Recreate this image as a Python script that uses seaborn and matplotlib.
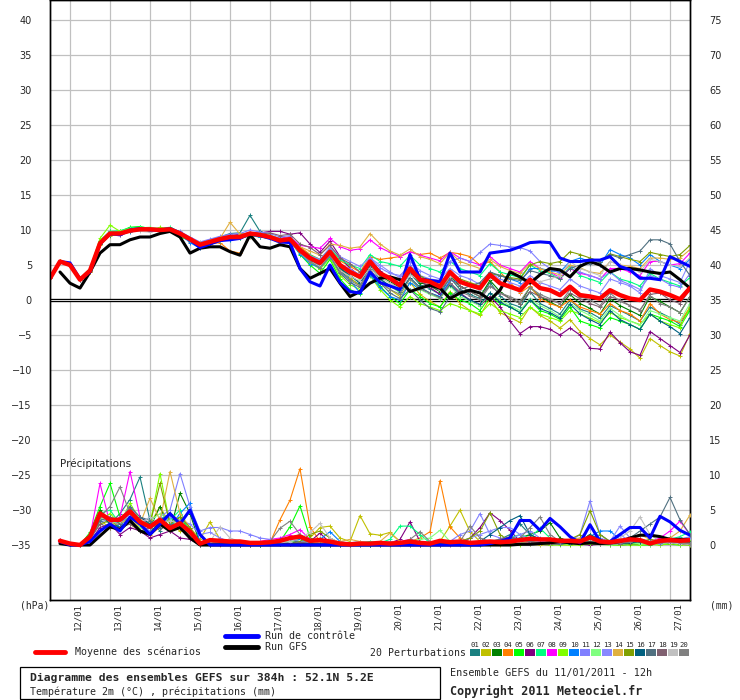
import numpy as np
import pandas as pd
import matplotlib
matplotlib.use("Agg")
import matplotlib.pyplot as plt
from matplotlib.transforms import ScaledTranslation
from matplotlib.lines import Line2D
from matplotlib.patches import Rectangle
import seaborn as sns

nan = float("nan")

# 6-hourly steps of the 11/01/2011 12h GEFS run, 0..384h
times = pd.date_range("2011-01-11 12:00", "2011-01-27 12:00", freq="6h")
days = pd.date_range("2011-01-12", "2011-01-27", freq="D")
day_labels = ["12/01", "13/01", "14/01", "15/01", "16/01", "17/01", "18/01", "19/01",
              "20/01", "21/01", "22/01", "23/01", "24/01", "25/01", "26/01", "27/01"]

members = ["01", "02", "03", "04", "05", "06", "07", "08", "09", "10",
           "11", "12", "13", "14", "15", "16", "17", "18", "19", "20"]
pert_colors = ["#1a8080", "#c0c000", "#008000", "#ff8000", "#00ff00", "#800080", "#00ff80",
               "#ff00ff", "#80ff00", "#0080ff", "#8080ff", "#80ff80", "#8888ff", "#e0b040",
               "#80a000", "#006080", "#507080", "#806070", "#c0c0c0", "#808080"]

# ---- 2m temperature (°C) ----
t01 = [3.1,
       5.6, 5.2, 3.0, 4.4, 8.5, 9.8, 9.6, 10.2,
       10.3, 10.0, 10.3, 10.0, 9.2, 8.5, 7.6, 8.6,
       9.0, 9.5, 9.6, 12.1, 9.8, 9.2, 8.8, 9.0,
       7.5, 6.3, 5.0, 6.5, 4.2, 3.0, 2.2, 4.8,
       3.0, 2.0, 1.5, 3.8, 2.2, 1.6, 0.8, 3.2,
       1.5, 0.8, 0.2, 2.5, 0.6, -0.5, -1.0, 1.2,
       -0.5, -1.2, -2.0, 0.0, -1.3, -1.8, -2.6, -0.8,
       -1.5, -2.2, -3.0, -1.0, -1.8, -2.5, -3.5, -1.2]
t02 = [3.1,
       5.4, 5.0, 2.8, 4.0, 7.8, 9.2, 9.4, 9.8,
       10.0, 10.2, 9.8, 10.0, 9.6, 8.8, 8.0, 8.2,
       8.5, 8.8, 8.8, 9.2, 9.0, 8.8, 8.2, 8.4,
       6.8, 5.8, 5.0, 6.2, 4.5, 3.2, 2.0, 4.2,
       2.6, 1.5, 0.5, 2.5, 0.8, -0.2, -1.0, 1.2,
       -0.5, -1.5, -2.2, 0.2, -1.8, -2.5, -3.2, -1.0,
       -2.2, -3.0, -4.0, -2.8, -4.5, -5.5, -6.4, -5.0,
       -6.0, -7.0, -8.3, -5.5, -6.5, -7.4, -8.0, -4.8]
t03 = [3.1,
       5.5, 5.1, 2.9, 4.3, 8.2, 9.6, 9.7, 10.0,
       10.2, 10.3, 10.1, 10.2, 9.4, 8.6, 7.8, 8.0,
       8.6, 8.9, 9.2, 9.4, 9.2, 9.1, 8.6, 8.8,
       7.0, 5.6, 4.5, 6.4, 4.6, 3.5, 2.5, 5.0,
       3.5, 2.6, 1.8, 4.0, 2.5, 2.0, 1.2, 3.5,
       2.0, 1.2, 0.5, 2.8, 1.2, 0.2, -0.5, 1.8,
       0.5, -0.3, -1.0, 0.8, -0.5, -1.2, -2.0, 0.2,
       -0.8, -1.5, -2.2, 0.5, -0.2, -1.0, -1.8, 0.5]
t04 = [3.1,
       5.5, 4.9, 2.8, 4.0, 8.0, 9.4, 9.5, 9.8,
       10.0, 10.0, 9.9, 10.0, 9.6, 8.3, 7.5, 8.0,
       8.2, 7.0, 6.7, 9.0, 9.5, 9.0, 8.3, 8.5,
       7.6, 6.5, 5.8, 7.2, 5.6, 4.8, 4.0, 6.2,
       5.8, 6.0, 6.2, 6.9, 6.5, 6.7, 6.0, 6.8,
       6.6, 6.2, 5.0, 5.5, 4.0, 2.5, 1.0, 2.0,
       0.2, -0.5, -1.0, 0.0, -1.0, -1.5, -2.0, -0.5,
       -1.5, -2.0, -3.0, -0.5, -2.0, -2.8, -3.2, -1.0]
t05 = [3.1,
       5.6, 5.1, 3.0, 4.2, 8.3, 9.7, 9.8, 10.4,
       10.5, 10.2, 10.0, 10.3, 9.0, 8.5, 7.7, 8.2,
       8.4, 8.7, 9.0, 9.3, 9.0, 8.8, 8.3, 8.5,
       6.5, 5.0, 3.8, 5.8, 3.0, 1.5, 0.8, 3.8,
       2.0, 0.5, -0.5, 1.5, 0.5, -0.5, -1.0, 1.0,
       0.0, -0.5, -1.5, 0.5, -0.5, -1.0, -1.8, 0.0,
       -1.5, -2.0, -2.8, -1.0, -3.0, -3.5, -4.0, -2.5,
       -3.0, -3.5, -4.2, -2.0, -2.5, -3.0, -3.8, -1.5]
t06 = [3.1,
       5.5, 5.0, 2.9, 4.1, 8.0, 9.4, 9.3, 9.8,
       10.0, 10.0, 10.1, 10.0, 9.4, 8.8, 8.2, 8.6,
       8.9, 9.2, 9.4, 9.6, 9.6, 9.8, 9.8, 9.4,
       9.6, 8.0, 6.8, 8.4, 6.2, 4.5, 3.5, 5.8,
       4.2, 3.0, 2.0, 4.0, 2.8, 1.8, 0.8, 2.5,
       1.0, 0.0, -0.8, 0.5, -1.0, -3.0, -4.8, -3.8,
       -3.8, -4.2, -5.0, -4.0, -5.0, -6.9, -7.0, -4.6,
       -6.1, -7.4, -7.9, -4.5, -5.5, -6.5, -7.5, -5.0]
t07 = [3.1,
       5.5, 5.0, 3.0, 4.3, 8.4, 9.8, 9.9, 10.3,
       10.4, 10.3, 10.2, 10.4, 9.7, 8.9, 8.0, 8.4,
       8.8, 9.1, 9.1, 9.6, 9.4, 9.2, 8.7, 8.9,
       7.2, 6.4, 5.8, 7.4, 5.8, 5.0, 4.5, 6.5,
       5.5, 5.2, 4.8, 6.4, 5.0, 4.5, 4.0, 5.5,
       4.5, 4.0, 3.5, 5.2, 4.0, 3.6, 3.2, 5.0,
       4.2, 3.8, 3.0, 4.8, 3.5, 3.0, 2.5, 4.0,
       3.0, 2.6, 2.0, 3.8, 3.0, 2.5, 2.0, 3.2]
t08 = [3.1,
       5.5, 5.0, 2.9, 4.2, 8.1, 9.5, 9.6, 10.0,
       10.1, 10.1, 10.0, 10.2, 9.6, 8.8, 8.0, 8.5,
       8.9, 9.1, 9.2, 9.7, 9.4, 9.1, 8.8, 9.0,
       7.8, 7.6, 7.4, 8.8, 7.6, 7.1, 7.3, 8.6,
       7.5, 6.8, 6.2, 6.9, 6.4, 6.0, 5.6, 6.9,
       6.0, 5.5, 5.0, 6.2, 5.0, 4.5, 4.0, 5.5,
       4.5, 4.0, 3.2, 4.5, 3.8, 3.5, 3.0, 4.5,
       4.5, 4.0, 3.5, 5.5, 5.5, 5.0, 5.2, 6.7]
t09 = [3.1,
       5.6, 5.2, 3.1, 4.5, 8.8, 10.7, 9.8, 10.2,
       10.0, 9.8, 10.4, 10.1, 9.3, 8.4, 7.8, 8.1,
       8.5, 8.6, 8.9, 9.1, 9.1, 8.9, 8.4, 8.6,
       6.8, 5.4, 4.4, 6.0, 3.5, 2.2, 1.5, 3.5,
       1.5, 0.0, -1.0, 0.5, -0.5, -1.0, -1.5, -0.5,
       -1.0, -1.5, -2.0, -0.5, -1.5, -2.0, -2.5, -1.0,
       -2.0, -2.5, -3.0, -1.5, -2.0, -2.6, -3.2, -1.8,
       -2.5, -3.0, -3.5, -2.0, -3.0, -3.5, -4.0, -1.0]
t10 = [3.1,
       5.5, 5.1, 2.9, 4.2, 8.0, 9.3, 9.4, 9.7,
       10.0, 10.0, 9.9, 10.0, 9.4, 8.2, 7.4, 8.0,
       8.4, 8.6, 8.8, 9.2, 9.0, 8.9, 8.2, 8.4,
       6.6, 5.2, 4.6, 6.2, 4.0, 2.8, 1.0, 3.6,
       1.8, 0.5, 0.0, 2.5, 1.5, 1.0, 0.5, 2.8,
       2.5, 2.0, 1.5, 3.8, 3.5, 3.0, 2.5, 4.5,
       4.5, 4.2, 4.0, 5.5, 6.0, 5.5, 5.0, 7.2,
       6.5, 6.0, 5.0, 6.5, 5.5, 5.0, 4.5, 5.8]
t11 = [3.1,
       5.5, 5.1, 3.0, 4.2, 8.2, 9.5, 9.6, 10.1,
       10.2, 10.0, 9.9, 10.1, 9.8, 9.0, 8.3, 8.7,
       9.1, 9.4, 9.5, 10.0, 9.7, 9.5, 9.0, 9.2,
       7.3, 6.2, 5.6, 7.2, 5.2, 4.4, 3.6, 6.0,
       4.6, 3.8, 3.5, 5.0, 3.5, 3.0, 2.8, 5.5,
       6.0, 5.5, 6.8, 8.0, 7.8, 7.6, 7.5, 7.0,
       5.5, 4.5, 3.8, 5.0, 4.0, 3.5, 3.0, 4.0,
       2.8, 2.2, 1.5, 3.5, 3.0, 2.2, 1.8, 3.8]
t12 = [3.1,
       5.5, 5.0, 3.0, 4.3, 8.3, 9.6, 9.7, 10.1,
       10.3, 10.4, 10.2, 10.3, 9.5, 8.8, 8.1, 8.5,
       8.9, 9.0, 9.3, 9.6, 9.5, 9.3, 8.7, 8.9,
       7.2, 6.0, 5.0, 6.6, 4.8, 3.8, 3.0, 5.2,
       3.0, 2.0, 1.0, 3.0, 1.5, 0.8, 0.2, 2.0,
       0.5, -0.2, -0.8, 1.0, 0.0, -0.8, -1.5, 0.2,
       -0.8, -1.5, -2.4, -0.5, -1.5, -2.2, -3.0, -1.2,
       -2.2, -3.0, -3.6, -1.5, -2.0, -2.5, -3.0, -0.5]
t13 = [3.1,
       5.5, 5.0, 2.9, 4.2, 8.1, 9.4, 9.4, 9.9,
       10.1, 10.1, 10.0, 10.2, 9.5, 8.7, 7.9, 8.3,
       8.7, 9.0, 9.1, 9.5, 9.3, 9.0, 8.5, 8.7,
       7.0, 6.3, 5.8, 7.5, 6.2, 5.5, 4.8, 6.0,
       5.0, 4.0, 3.2, 5.5, 4.2, 3.5, 3.0, 4.5,
       3.5, 3.0, 2.2, 4.0, 3.0, 2.5, 2.0, 3.5,
       2.5, 2.0, 1.5, 3.0, 2.0, 1.5, 1.0, 3.0,
       2.5, 2.0, 1.0, 4.5, 3.5, 3.0, 2.5, 5.5]
t14 = [3.1,
       5.6, 5.1, 3.0, 4.3, 8.2, 9.6, 9.7, 10.0,
       10.0, 9.9, 10.0, 10.1, 9.5, 8.8, 8.1, 8.5,
       8.8, 11.1, 9.4, 9.5, 9.2, 8.9, 8.4, 8.6,
       7.6, 7.0, 6.4, 8.0, 7.8, 7.4, 7.6, 9.5,
       8.0, 7.0, 6.4, 7.3, 6.2, 5.8, 5.2, 6.8,
       5.5, 5.0, 4.5, 5.8, 4.8, 4.2, 3.8, 5.2,
       4.5, 4.0, 3.6, 5.0, 4.6, 4.0, 3.8, 5.5,
       5.0, 4.8, 4.5, 6.0, 6.0, 5.8, 6.0, 7.2]
t15 = [3.1,
       5.5, 5.1, 2.9, 4.2, 8.0, 9.4, 9.5, 9.9,
       10.2, 10.2, 10.1, 10.0, 9.3, 8.6, 7.8, 8.1,
       8.6, 8.9, 9.0, 9.4, 9.2, 8.9, 8.4, 8.6,
       6.9, 5.9, 5.2, 6.8, 4.9, 4.0, 3.4, 5.4,
       3.8, 3.0, 2.4, 4.6, 3.4, 2.8, 2.2, 4.0,
       3.0, 2.5, 2.0, 3.8, 3.5, 3.2, 3.0, 5.0,
       5.5, 5.2, 5.5, 6.9, 6.5, 6.0, 5.5, 6.6,
       6.2, 5.8, 5.5, 6.8, 6.5, 6.2, 6.5, 7.8]
t16 = [3.1,
       5.5, 5.0, 2.8, 4.1, 8.0, 9.3, 9.4, 9.8,
       10.0, 10.1, 10.0, 10.1, 9.6, 8.7, 7.9, 8.2,
       8.7, 9.1, 9.0, 9.4, 9.2, 9.0, 8.6, 8.7,
       7.0, 5.8, 5.0, 6.6, 4.5, 3.5, 2.4, 4.8,
       3.0, 2.0, 1.2, 3.2, 1.8, 1.0, 0.4, 2.2,
       0.8, 0.0, -0.6, 1.0, -0.3, -1.0, -1.8, 0.0,
       -1.2, -1.8, -2.6, -0.6, -2.0, -2.8, -3.5, -1.5,
       -2.8, -3.5, -4.2, -2.0, -3.0, -3.8, -4.8, -2.5]
t17 = [3.1,
       5.5, 5.0, 2.9, 4.2, 8.1, 9.5, 9.5, 10.0,
       10.1, 10.0, 10.0, 10.1, 9.5, 8.7, 7.8, 8.3,
       8.6, 8.9, 9.0, 9.4, 9.2, 9.0, 8.6, 8.7,
       7.0, 5.8, 4.8, 6.4, 3.8, 2.5, 1.8, 4.0,
       2.5, 1.0, 0.2, 1.5, 0.0, -1.2, -1.7, 0.5,
       1.5, 2.0, 2.5, 4.0, 3.5, 3.0, 2.8, 4.2,
       3.8, 3.5, 3.0, 4.5, 5.0, 5.2, 5.5, 6.5,
       6.0, 6.5, 7.0, 8.6, 8.6, 8.0, 5.5, 3.5]
t18 = [3.1,
       5.5, 5.0, 2.9, 4.2, 8.0, 9.4, 9.4, 9.9,
       10.1, 10.0, 10.0, 10.1, 9.4, 8.7, 8.0, 8.2,
       8.7, 9.0, 9.1, 9.4, 9.4, 9.6, 9.2, 9.4,
       8.0, 7.5, 6.5, 7.8, 6.0, 5.2, 4.0, 5.6,
       4.0, 3.0, 2.2, 4.2, 2.8, 2.0, 1.4, 3.0,
       2.0, 1.2, 0.5, 2.0, 1.0, 0.2, -0.5, 1.2,
       0.5, 0.0, -0.5, 1.0, 0.2, -0.5, -1.0, 0.5,
       0.0, -0.8, -1.5, 0.8, 1.0, 0.0, -0.5, 1.5]
t19 = [3.1,
       5.5, 5.0, 2.9, 4.2, 8.2, 9.4, 9.6, 10.0,
       9.8, 9.7, 9.9, 10.0, 9.3, 8.6, 7.8, 8.2,
       8.6, 8.9, 9.0, 9.4, 9.2, 8.8, 8.0, 8.3,
       6.8, 5.5, 4.8, 6.5, 4.2, 3.4, 2.7, 4.6,
       3.2, 2.4, 1.6, 3.6, 2.8, 2.2, 1.5, 3.4,
       2.6, 2.0, 1.4, 3.2, 2.4, 1.8, 1.2, 3.0,
       2.6, 3.0, 3.5, 5.5, 4.5, 4.0, 3.5, 5.5,
       5.0, 4.5, 4.0, 5.8, 5.5, 5.0, 4.8, 6.0]
t20 = [3.1,
       5.5, 5.0, 2.9, 4.2, 8.1, 9.5, 9.5, 10.0,
       10.1, 10.1, 10.0, 10.1, 9.4, 8.6, 7.7, 8.2,
       8.7, 9.0, 9.0, 9.4, 9.2, 9.0, 8.5, 8.7,
       6.8, 5.5, 4.6, 6.3, 4.0, 2.8, 2.0, 4.4,
       2.5, 1.5, 0.8, 3.0, 1.6, 1.0, 0.3, 2.4,
       1.2, 0.6, 0.0, 2.0, 1.0, 0.5, -0.2, 1.8,
       0.8, 0.2, -0.5, 1.5, 0.5, 0.0, -0.8, 1.0,
       -0.2, -0.8, -1.4, 0.6, -0.5, -1.0, -1.8, 0.5]
mean_t = [3.1,
          5.5, 5.0, 2.9, 4.2, 8.1, 9.5, 9.5, 9.9,
          10.1, 10.1, 10.0, 10.1, 9.5, 8.7, 7.9, 8.3,
          8.7, 9.0, 9.0, 9.5, 9.3, 9.0, 8.5, 8.7,
          7.1, 6.0, 5.3, 6.9, 5.0, 4.0, 3.3, 5.5,
          3.8, 3.1, 2.1, 4.5, 2.9, 2.6, 1.9, 4.0,
          2.6, 2.1, 1.7, 3.6, 2.4, 1.9, 1.4, 2.9,
          1.7, 1.4, 0.7, 1.9, 0.7, 0.5, 0.2, 1.4,
          0.7, 0.2, 0.0, 1.5, 1.2, 0.7, 0.1, 1.7]
ctrl_t = [3.1,
          5.5, 5.3, 3.0, 4.0, 8.0, 9.5, 9.3, 10.0,
          10.2, 10.0, 10.0, 10.2, 9.6, 8.6, 7.5, 8.0,
          8.5, 8.6, 8.8, 9.5, 9.2, 8.8, 8.3, 8.2,
          4.5, 2.6, 2.0, 5.0, 2.5, 1.2, 1.0, 4.0,
          2.5, 2.0, 1.5, 6.5, 3.0, 2.8, 2.6, 6.7,
          4.0, 4.0, 4.0, 6.7, 6.9, 7.1, 7.6, 8.2,
          8.3, 8.2, 6.0, 5.5, 5.5, 5.7, 5.7, 6.2,
          4.8, 4.3, 3.1, 3.1, 2.9, 6.2, 5.5, 4.8]
gfs_t = [nan,
         4.0, 2.4, 1.7, 4.0, 6.7, 7.9, 7.9, 8.6,
         9.0, 9.0, 9.5, 9.8, 9.0, 6.7, 7.4, 7.6,
         7.6, 6.9, 6.4, 9.3, 7.6, 7.4, 7.9, 7.6,
         4.5, 3.1, 3.8, 4.5, 2.4, 0.5, 1.2, 2.4,
         3.1, 3.3, 2.9, 1.2, 1.7, 2.1, 1.7, 0.2,
         1.0, 1.4, 1.0, 0.0, 1.4, 4.0, 3.3, 2.4,
         3.6, 4.5, 4.3, 3.3, 4.8, 5.5, 5.0, 4.0,
         4.5, 4.5, 4.3, 4.0, 3.8, 4.0, 2.9, 1.7]

# ---- precipitation (mm / 6h) ----
r01 = [nan, 0.6, 0.2, 0.0, 1.5, 4.0, 3.0, 4.5, 6.5, 9.7, 3.5, 2.0, 4.0, 3.0, 2.5, 0.5, 0.3,
       0.5, 0.3, 0.2, 0.1, 0.1, 0.3, 0.5, 1.0, 1.5, 0.5, 0.3, 0.2, 0.1, 0.0, 0.0, 0.1,
       0.2, 0.1, 0.3, 0.2, 0.1, 0.0, 0.2, 0.3, 0.5, 0.3, 0.2, 0.5, 0.8, 1.5, 3.0, 1.5,
       0.8, 0.5, 0.3, 0.2, 0.3, 1.0, 0.5, 0.3, 0.2, 0.2, 0.3, 0.5, 0.8, 1.0, 0.8, 0.5]
r02 = [nan, 0.6, 0.2, 0.0, 1.0, 3.5, 2.5, 3.0, 4.0, 2.5, 3.0, 5.5, 3.0, 2.0, 2.5, 0.8, 3.3,
       0.8, 0.3, 0.1, 0.0, 0.0, 0.1, 0.2, 0.3, 0.5, 1.0, 2.5, 2.7, 1.0, 0.5, 4.2, 1.6,
       1.4, 1.8, 0.5, 0.2, 0.1, 0.0, 0.5, 2.7, 5.0, 1.9, 0.5, 0.3, 0.1, 0.0, 0.2, 0.1,
       0.0, 0.1, 0.3, 0.2, 0.0, 0.5, 0.2, 0.0, 0.1, 0.3, 0.5, 0.2, 0.0, 0.2, 0.5, 0.3]
r03 = [nan, 0.6, 0.1, 0.0, 0.8, 5.0, 3.5, 2.5, 5.5, 3.0, 2.5, 5.5, 2.0, 7.4, 4.5, 0.2, 0.5,
       0.3, 0.2, 0.0, 0.0, 0.1, 0.2, 0.1, 0.3, 0.5, 0.3, 0.2, 0.0, 0.0, 0.0, 0.1, 0.0,
       0.0, 0.1, 0.2, 0.5, 0.3, 0.1, 0.0, 0.2, 0.3, 0.5, 0.2, 0.1, 0.3, 0.5, 1.0, 1.5,
       2.0, 3.2, 1.0, 0.5, 0.5, 1.5, 0.5, 0.2, 0.1, 0.3, 0.5, 0.2, 0.5, 1.0, 0.5, 0.2]
r04 = [nan, 0.6, 0.2, 0.0, 1.0, 4.0, 3.0, 3.5, 3.0, 2.0, 1.5, 2.5, 4.5, 3.5, 1.0, 0.0, 0.0,
       0.0, 0.0, 0.1, 0.2, 0.3, 0.3, 3.6, 6.4, 10.9, 2.6, 0.5, 0.2, 0.1, 0.0, 0.0, 0.1,
       0.2, 0.1, 0.3, 0.5, 1.0, 1.9, 9.2, 2.6, 1.0, 0.5, 0.2, 0.1, 0.2, 0.1, 0.3, 0.5,
       0.3, 0.2, 0.1, 0.0, 0.2, 0.5, 0.3, 0.1, 0.2, 0.3, 0.8, 0.5, 0.3, 0.5, 0.8, 1.0]
r05 = [nan, 0.6, 0.1, 0.0, 1.8, 5.5, 8.8, 4.0, 3.5, 2.0, 2.0, 3.0, 2.5, 4.0, 2.0, 0.2, 0.2,
       0.2, 0.1, 0.0, 0.0, 0.0, 0.1, 0.5, 2.6, 5.6, 1.0, 0.3, 0.1, 0.0, 0.0, 0.0, 0.0,
       0.1, 0.2, 0.1, 0.0, 0.0, 0.1, 0.3, 0.2, 0.1, 0.0, 0.0, 0.2, 0.1, 0.0, 0.3, 0.5,
       0.8, 0.5, 0.2, 0.1, 0.5, 1.5, 0.3, 0.0, 0.0, 0.1, 0.0, 0.0, 0.2, 0.1, 0.0, 0.3]
r06 = [nan, 0.7, 0.2, 0.0, 0.5, 2.5, 3.0, 1.5, 2.5, 2.0, 1.0, 1.5, 2.0, 1.0, 0.8, 0.0, 0.0,
       0.1, 0.0, 0.0, 0.0, 0.1, 0.2, 0.3, 0.5, 0.3, 0.5, 1.7, 0.3, 0.1, 0.0, 0.0, 0.0,
       0.1, 0.3, 0.8, 3.3, 0.5, 0.2, 0.1, 0.0, 0.1, 1.0, 2.5, 4.6, 3.5, 2.1, 0.5, 0.2,
       0.1, 0.0, 0.2, 0.3, 0.1, 0.0, 0.1, 0.2, 0.0, 0.1, 0.2, 0.1, 0.3, 0.2, 0.1, 0.0]
r07 = [nan, 0.6, 0.2, 0.0, 1.5, 4.5, 5.0, 3.0, 4.0, 3.0, 2.5, 4.0, 3.5, 5.0, 1.5, 0.1, 0.3,
       0.3, 0.2, 0.1, 0.0, 0.0, 0.1, 0.2, 0.5, 0.8, 0.3, 0.1, 0.0, 0.1, 0.2, 0.3, 0.5,
       0.3, 0.8, 2.7, 2.7, 1.5, 0.3, 0.1, 0.2, 0.3, 0.2, 0.1, 0.0, 0.5, 1.0, 1.5, 1.0,
       2.4, 1.0, 0.5, 0.3, 0.2, 0.8, 1.5, 0.5, 0.2, 0.1, 0.3, 0.5, 0.5, 0.8, 1.2, 1.9]
r08 = [nan, 0.6, 0.2, 0.0, 1.2, 8.8, 3.0, 4.0, 10.5, 4.0, 3.0, 3.0, 2.0, 2.5, 2.0, 0.3, 0.3,
       0.2, 0.1, 0.0, 0.3, 0.5, 0.8, 1.0, 1.5, 2.2, 0.8, 0.3, 0.1, 0.0, 0.1, 0.2, 0.1,
       0.0, 0.3, 0.5, 0.8, 0.2, 0.1, 0.0, 0.1, 0.2, 0.1, 0.3, 0.2, 0.1, 0.2, 0.5, 0.3,
       0.2, 0.5, 0.3, 0.2, 0.3, 0.5, 0.2, 0.1, 0.2, 0.5, 0.3, 0.5, 1.0, 2.0, 3.4, 1.5]
r09 = [nan, 0.6, 0.2, 0.0, 1.0, 3.5, 4.5, 3.0, 6.0, 3.5, 3.0, 10.2, 3.0, 3.5, 2.0, 0.1, 0.2,
       0.2, 0.0, 0.0, 0.0, 0.0, 0.1, 0.3, 0.5, 0.8, 0.2, 0.0, 0.0, 0.0, 0.0, 0.1, 0.0,
       0.0, 0.0, 0.2, 0.1, 0.0, 0.0, 0.1, 0.3, 0.2, 0.0, 0.0, 0.1, 0.0, 0.0, 0.0, 0.2,
       0.1, 0.0, 0.0, 0.0, 0.0, 0.2, 0.1, 0.0, 0.0, 0.0, 0.0, 0.1, 0.0, 0.2, 0.0, 0.0]
r10 = [nan, 0.6, 0.2, 0.0, 1.5, 3.5, 4.0, 2.5, 5.0, 3.0, 4.0, 3.0, 2.5, 4.5, 6.0, 0.2, 0.5,
       0.3, 0.2, 0.1, 0.0, 0.2, 0.5, 0.8, 1.0, 0.8, 0.5, 0.8, 1.9, 0.5, 0.2, 0.1, 0.0,
       0.1, 0.2, 0.3, 0.5, 0.3, 0.1, 0.2, 0.5, 0.3, 0.2, 0.1, 0.3, 0.5, 0.8, 1.0, 0.8,
       0.5, 0.3, 0.2, 0.5, 0.8, 1.2, 2.0, 2.0, 0.8, 0.5, 0.3, 0.2, 0.3, 0.5, 0.3, 0.2]
r11 = [nan, 0.5, 0.2, 0.0, 1.0, 4.0, 3.5, 3.0, 4.5, 3.0, 2.0, 4.0, 5.0, 10.2, 5.5, 2.0, 2.5,
       2.5, 2.0, 2.0, 1.5, 1.0, 0.8, 0.5, 0.3, 0.2, 0.1, 0.0, 0.1, 0.2, 0.3, 0.5, 0.3,
       0.2, 0.5, 0.3, 0.8, 0.5, 0.3, 0.2, 0.5, 1.5, 2.0, 4.5, 1.5, 1.0, 0.8, 1.5, 2.0,
       1.0, 0.5, 0.3, 0.5, 1.5, 6.3, 1.5, 0.5, 1.5, 0.5, 0.3, 0.2, 0.5, 0.8, 1.0, 0.5]
r12 = [nan, 0.6, 0.1, 0.0, 1.2, 4.0, 3.0, 3.5, 3.0, 2.5, 3.5, 4.5, 3.5, 3.0, 2.0, 0.2, 0.0,
       0.1, 0.0, 0.0, 0.0, 0.1, 0.2, 0.3, 0.5, 0.3, 0.2, 0.1, 0.0, 0.0, 0.1, 0.2, 0.1,
       0.0, 0.1, 0.3, 0.5, 0.8, 1.0, 2.1, 0.5, 0.2, 0.1, 0.0, 0.1, 0.3, 0.5, 0.3, 0.1,
       0.2, 0.5, 0.3, 0.1, 0.2, 0.3, 0.1, 0.0, 0.1, 0.3, 0.2, 0.1, 0.2, 0.3, 0.5, 0.8]
r13 = [nan, 0.6, 0.2, 0.0, 1.0, 3.0, 4.0, 3.5, 5.5, 3.5, 2.5, 3.0, 4.0, 3.5, 3.0, 1.5, 1.8,
       1.0, 0.5, 0.3, 0.2, 0.2, 0.3, 0.5, 0.8, 0.5, 0.3, 0.2, 0.1, 0.1, 0.0, 0.1, 0.2,
       0.3, 0.2, 0.1, 0.2, 0.3, 0.2, 0.1, 0.3, 0.5, 1.0, 1.5, 2.0, 2.5, 2.5, 1.5, 0.8,
       0.5, 0.3, 0.2, 0.5, 1.0, 2.5, 1.0, 0.5, 2.7, 1.0, 0.5, 0.3, 0.2, 0.5, 0.8, 1.2]
r14 = [nan, 0.6, 0.2, 0.0, 1.3, 4.5, 3.0, 3.0, 4.0, 3.0, 6.7, 3.5, 10.5, 4.5, 2.5, 0.3, 0.2,
       0.5, 0.2, 0.1, 0.0, 0.1, 0.3, 0.5, 0.2, 0.1, 0.2, 0.5, 0.3, 0.5, 0.8, 0.5, 0.3,
       0.5, 1.7, 0.5, 0.2, 0.1, 0.2, 0.3, 0.1, 0.0, 0.1, 0.3, 0.2, 0.1, 0.2, 0.3, 0.5,
       0.3, 0.2, 0.5, 0.8, 1.0, 0.5, 0.3, 0.2, 0.5, 1.0, 1.5, 0.8, 0.5, 1.0, 2.0, 4.3]
r15 = [nan, 0.6, 0.2, 0.0, 1.0, 3.0, 3.5, 3.5, 5.0, 3.5, 3.0, 8.8, 3.0, 4.0, 2.5, 0.2, 0.2,
       0.2, 0.1, 0.0, 0.0, 0.1, 0.2, 0.3, 0.2, 0.5, 1.5, 2.0, 1.0, 0.3, 0.1, 0.0, 0.1,
       0.2, 0.3, 0.2, 0.1, 0.2, 0.3, 0.5, 0.3, 0.5, 1.0, 2.0, 4.6, 1.5, 0.5, 0.3, 0.2,
       0.1, 0.3, 0.5, 0.8, 1.5, 4.9, 1.5, 0.5, 0.3, 0.2, 0.5, 0.8, 0.5, 0.3, 0.2, 0.5]
r16 = [nan, 0.6, 0.2, 0.0, 1.0, 4.5, 3.0, 2.5, 3.5, 4.0, 3.0, 3.5, 4.5, 3.0, 2.0, 0.1, 0.0,
       0.1, 0.0, 0.0, 0.0, 0.0, 0.1, 0.2, 0.3, 0.2, 0.1, 0.0, 0.0, 0.0, 0.1, 0.0, 0.0,
       0.1, 0.2, 0.3, 0.2, 0.1, 0.0, 0.2, 0.3, 0.5, 0.3, 0.5, 1.5, 2.5, 3.5, 4.2, 1.5,
       0.8, 0.5, 0.3, 0.2, 0.5, 1.5, 0.8, 0.3, 0.2, 0.3, 0.5, 0.3, 0.5, 0.3, 0.2, 0.3]
r17 = [nan, 0.6, 0.2, 0.0, 1.0, 3.5, 4.0, 3.0, 5.5, 4.0, 3.5, 2.5, 3.0, 2.5, 1.5, 0.0, 0.2,
       0.2, 0.1, 0.0, 0.1, 0.2, 0.3, 0.5, 0.8, 0.3, 0.2, 0.1, 0.0, 0.0, 0.0, 0.1, 0.0,
       0.0, 0.1, 0.2, 0.1, 0.0, 0.1, 0.0, 0.2, 0.3, 0.2, 0.1, 0.3, 0.5, 1.0, 0.8, 0.5,
       0.3, 0.2, 0.1, 0.3, 0.5, 0.8, 0.5, 0.3, 0.5, 1.0, 2.0, 3.0, 4.0, 6.8, 3.6, 1.5]
r18 = [nan, 0.6, 0.2, 0.0, 0.8, 3.0, 2.5, 2.5, 3.0, 2.0, 2.5, 3.0, 2.0, 2.5, 1.0, 0.1, 0.2,
       0.2, 0.1, 0.0, 0.0, 0.1, 0.2, 0.3, 0.2, 0.3, 0.5, 0.8, 0.3, 0.1, 0.0, 0.1, 0.2,
       0.3, 0.2, 0.1, 0.0, 0.0, 0.1, 0.3, 0.2, 0.1, 0.0, 0.2, 0.5, 0.8, 1.2, 0.8, 0.5,
       0.3, 0.2, 0.3, 0.5, 0.3, 0.5, 0.2, 0.1, 0.2, 0.5, 0.8, 0.5, 0.3, 0.5, 0.3, 0.2]
r19 = [nan, 0.6, 0.2, 0.0, 1.2, 4.0, 3.5, 3.5, 4.5, 3.0, 4.0, 3.0, 3.5, 3.0, 2.0, 0.2, 0.5,
       2.6, 1.0, 0.5, 0.2, 0.1, 0.2, 0.3, 0.5, 1.0, 1.8, 3.1, 1.0, 0.3, 0.1, 0.0, 0.1,
       0.2, 0.1, 0.0, 0.1, 0.3, 0.2, 0.1, 0.0, 0.1, 0.2, 0.3, 0.2, 0.3, 0.5, 0.3, 0.2,
       0.1, 0.3, 0.5, 0.3, 0.2, 0.5, 0.3, 0.5, 1.0, 2.0, 4.0, 1.5, 0.5, 0.3, 0.2, 0.1]
r20 = [nan, 0.6, 0.2, 0.0, 1.5, 4.0, 5.5, 8.3, 4.5, 3.0, 2.5, 3.0, 2.5, 3.0, 1.5, 0.1, 0.2,
       0.5, 0.3, 0.1, 0.0, 0.1, 0.5, 2.4, 3.4, 1.5, 0.5, 1.0, 0.3, 0.1, 0.0, 0.1, 0.2,
       0.1, 0.0, 0.3, 0.8, 1.9, 0.5, 0.2, 0.1, 0.5, 2.7, 1.0, 0.5, 0.3, 0.5, 1.0, 2.5,
       4.0, 1.5, 0.5, 0.3, 0.2, 0.5, 0.3, 0.2, 0.3, 0.5, 0.8, 0.5, 0.3, 0.5, 0.3, 0.2]
mean_r = [nan, 0.6, 0.2, 0.0, 1.2, 4.5, 3.6, 3.6, 4.8, 3.3, 2.6, 3.6, 2.4, 3.1, 1.9, 0.2, 0.7,
          0.6, 0.5, 0.5, 0.3, 0.3, 0.4, 0.6, 1.0, 1.2, 0.6, 0.7, 0.5, 0.2, 0.1, 0.2, 0.2,
          0.3, 0.2, 0.3, 0.5, 0.3, 0.2, 0.6, 0.4, 0.5, 0.3, 0.4, 0.5, 0.4, 0.5, 0.7, 0.9,
          0.8, 0.8, 0.6, 0.6, 0.5, 1.1, 0.5, 0.4, 0.6, 0.8, 0.7, 0.2, 0.6, 0.7, 0.6, 0.7]
ctrl_r = [nan, 0.5, 0.0, 0.0, 0.5, 2.0, 3.0, 2.0, 4.0, 3.0, 1.5, 3.0, 4.5, 3.0, 5.0, 1.5, 0.0,
          0.0, 0.0, 0.0, 0.0, 0.0, 0.0, 0.0, 0.0, 0.0, 0.0, 0.0, 0.0, 0.0, 0.0, 0.0, 0.0,
          0.0, 0.0, 0.0, 0.0, 0.0, 0.0, 0.0, 0.0, 0.0, 0.0, 0.0, 0.2, 0.5, 1.0, 3.5, 3.5,
          2.1, 3.8, 2.6, 1.2, 0.3, 2.9, 0.5, 0.5, 1.5, 2.5, 2.5, 1.0, 4.1, 3.3, 2.1, 1.4]
gfs_r = [nan, 0.2, 0.0, 0.0, 0.0, 1.3, 2.6, 2.2, 3.5, 2.0, 1.5, 3.0, 2.0, 2.5, 1.0, 0.0, 0.0,
         0.0, 0.0, 0.0, 0.0, 0.0, 0.0, 0.0, 0.0, 0.0, 0.0, 0.0, 0.0, 0.0, 0.0, 0.0, 0.0,
         0.0, 0.0, 0.0, 0.0, 0.0, 0.0, 0.0, 0.0, 0.0, 0.0, 0.0, 0.0, 0.0, 0.0, 0.1, 0.1,
         0.2, 0.3, 0.5, 0.3, 0.2, 0.3, 0.2, 0.3, 0.5, 1.0, 1.4, 1.4, 1.2, 0.8, 0.8, 0.8]

pert_t = [t01, t02, t03, t04, t05, t06, t07, t08, t09, t10,
          t11, t12, t13, t14, t15, t16, t17, t18, t19, t20]
pert_r = [r01, r02, r03, r04, r05, r06, r07, r08, r09, r10,
          r11, r12, r13, r14, r15, r16, r17, r18, r19, r20]
for s in pert_t + pert_r + [mean_t, ctrl_t, gfs_t, mean_r, ctrl_r, gfs_r]:
    assert len(s) == len(times), len(s)

sns.set_style("white")
plt.rcParams["font.family"] = ["DejaVu Sans"]

W, H = 740, 700
fig = plt.figure(figsize=(W / 100, H / 100), dpi=100)
ax = fig.add_axes([50 / W, 100 / H, 640 / W, 600 / H])
ax2 = ax.twinx()

# temperature
for vals, col in zip(pert_t, pert_colors):
    sns.lineplot(x=times, y=vals, ax=ax, color=col, lw=0.8, marker="+", markersize=3.5,
                 markeredgecolor=col, markeredgewidth=0.7, zorder=3)
sns.lineplot(x=times, y=gfs_t, ax=ax, color="black", lw=2.2, zorder=4)
sns.lineplot(x=times, y=ctrl_t, ax=ax, color="#0000ff", lw=2.2, zorder=5)
sns.lineplot(x=times, y=mean_t, ax=ax, color="#ff0000", lw=3.2, zorder=6)

# precipitation, read on the right-hand scale
for vals, col in zip(pert_r, pert_colors):
    sns.lineplot(x=times, y=vals, ax=ax2, color=col, lw=0.8, marker="+", markersize=3.5,
                 markeredgecolor=col, markeredgewidth=0.7, zorder=3)
sns.lineplot(x=times, y=gfs_r, ax=ax2, color="black", lw=2.2, zorder=4)
sns.lineplot(x=times, y=ctrl_r, ax=ax2, color="#0000ff", lw=2.2, zorder=5)
sns.lineplot(x=times, y=mean_r, ax=ax2, color="#ff0000", lw=3.2, zorder=6)

top = 300 / 7
ax.set_ylim(-top, top)
ax2.set_ylim(-top + 35, top + 35)
ax.set_xlim(times[0], times[-1])
ax.set_yticks(np.arange(-35, 41, 5))
ax2.set_yticks(np.arange(0, 76, 5))
ax.set_xticks(days)
ax.set_xticklabels(day_labels, rotation=90, family="DejaVu Sans Mono", fontsize=6.5)
ax.set_xlabel("")
ax.set_ylabel("")
ax2.set_ylabel("")

ax.set_axisbelow(True)
ax.grid(True, color="#c0c0c0", lw=0.9)
ax2.grid(False)
ax.axhline(0, color="black", lw=2.4, zorder=2)
ax.axhline(0, color="white", lw=0.6, zorder=2.1)

ax.tick_params(axis="y", length=0, pad=13, labelsize=7)
ax2.tick_params(axis="y", length=0, pad=14, labelsize=7)
ax.tick_params(axis="x", length=0, pad=2)
shift = ScaledTranslation(8 / 100, 0, fig.dpi_scale_trans)
for lbl in ax.get_xticklabels():
    lbl.set_transform(lbl.get_transform() + shift)
    lbl.set_verticalalignment("top")

for a in (ax, ax2):
    for sp in a.spines.values():
        sp.set_color("black")
        sp.set_linewidth(1.0)

mono = "DejaVu Sans Mono"


def fx(x):
    return x / W


def fy(y):
    return 1 - y / H


fig.text(fx(60), fy(464), "Précipitations", fontsize=7.5, va="center", ha="left")
fig.text(fx(20), fy(606), "(hPa)", family=mono, fontsize=7, va="center", ha="left")
fig.text(fx(710), fy(606), "(mm)", family=mono, fontsize=7, va="center", ha="left")

# legend
fig.add_artist(Line2D([fx(35), fx(65)], [fy(652), fy(652)], color="#ff0000", lw=3.5))
fig.text(fx(75), fy(652), "Moyenne des scénarios", family=mono, fontsize=7.2, va="center")
fig.add_artist(Line2D([fx(225), fx(258)], [fy(636), fy(636)], color="#0000ff", lw=3.5))
fig.text(fx(265), fy(636), "Run de contrôle", family=mono, fontsize=7.2, va="center")
fig.add_artist(Line2D([fx(225), fx(258)], [fy(647), fy(647)], color="black", lw=3.5))
fig.text(fx(265), fy(647), "Run GFS", family=mono, fontsize=7.2, va="center")
fig.text(fx(466), fy(653), "20 Perturbations", family=mono, fontsize=7.1, va="center", ha="right")
for k, (m, col) in enumerate(zip(members, pert_colors)):
    x0 = 470 + 11 * k
    fig.add_artist(Rectangle((fx(x0), fy(656)), 10 / W, 7 / H, facecolor=col,
                             edgecolor="none", transform=fig.transFigure))
    fig.text(fx(x0 + 5), fy(645), m, family=mono, fontsize=5.2, va="center", ha="center")

fig.add_artist(Rectangle((fx(20), fy(699)), 420 / W, 32 / H, fill=False, edgecolor="black",
                         lw=0.9, transform=fig.transFigure))
fig.text(fx(30), fy(678), "Diagramme des ensembles GEFS sur 384h : 52.1N 5.2E",
         family=mono, fontsize=8.2, fontweight="bold", va="center")
fig.text(fx(30), fy(692), "Température 2m (°C) , précipitations (mm)",
         family=mono, fontsize=7.2, va="center")
fig.text(fx(450), fy(673), "Ensemble GEFS du 11/01/2011 - 12h",
         family=mono, fontsize=7.3, va="center")
fig.text(fx(450), fy(691), "Copyright 2011 Meteociel.fr",
         family=mono, fontsize=8.5, fontweight="bold", va="center")

fig.savefig("out.png", dpi=100)
